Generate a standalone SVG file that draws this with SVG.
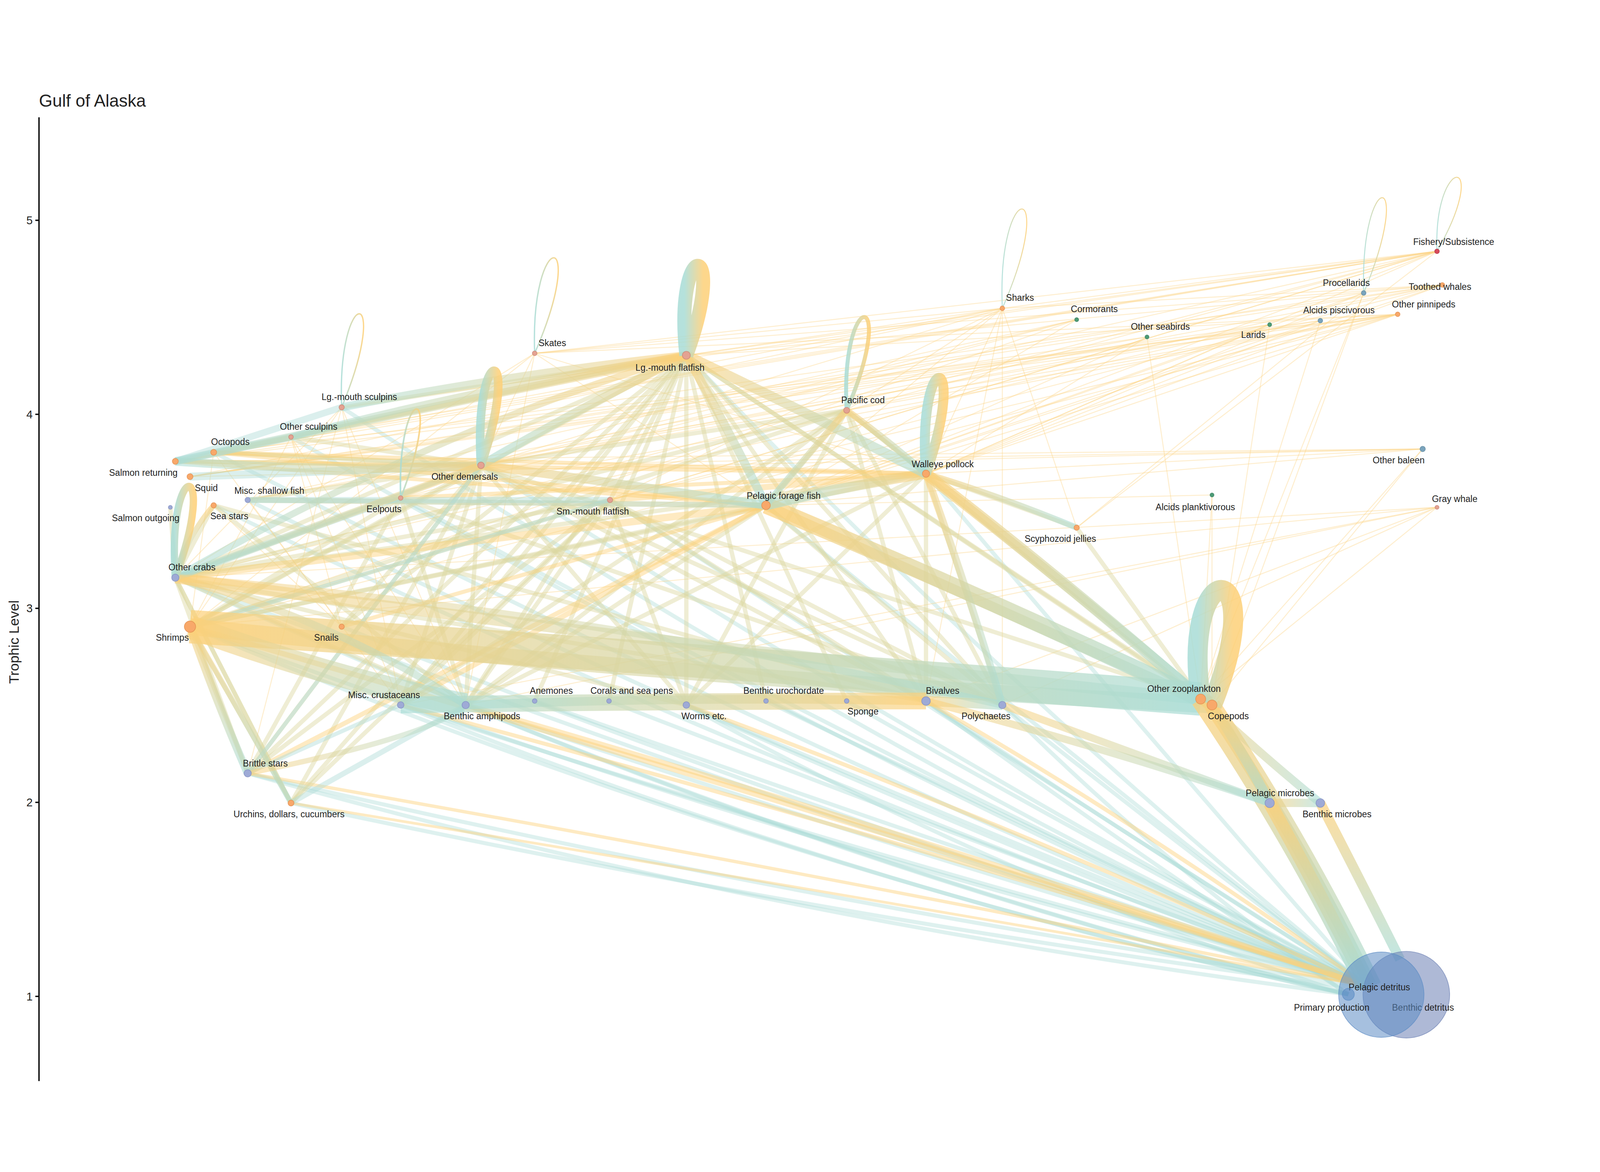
<svg xmlns="http://www.w3.org/2000/svg" width="4800" height="3000" viewBox="0 0 4800 3000" style="max-width:100vw;max-height:100vh">
<style>
text{font-family:"Liberation Sans",Arial,sans-serif;fill:#222}
.lb{font-size:27px;text-anchor:middle}
.tk{font-size:34px;text-anchor:end}
.o{stroke:#fdd488;fill:none;stroke-opacity:.4;stroke-width:3}
.t{stroke:#a9dad6;fill:none;stroke-opacity:.38;stroke-width:12}
.m{stroke:#dcd7a0;fill:none;stroke-opacity:.45;stroke-width:13}
.y{stroke:#fdd078;fill:none;stroke-opacity:.45;stroke-width:12}
.c{stroke:#b0dcd6;fill:none;stroke-opacity:.45;stroke-width:12}
.lp{fill:none;stroke-opacity:.85}
circle{stroke-width:2;stroke-opacity:.7}
.a{fill:#f8a86a;stroke:#e08a4a}
.f{fill:#e4a292;stroke:#c88070}
.b{fill:#9eaad6;stroke:#7f8cc0}
.g{fill:#4c9c76;stroke:#3a8060}
.s{fill:#7aa4bc;stroke:#5a849c}
.r{fill:#d84a5a;stroke:#b03040}
</style>
<defs>
<linearGradient id="gv" x1="0" y1="0" x2="0" y2="1"><stop offset="0" stop-color="#fdd078"/><stop offset="1" stop-color="#a8dcd6"/></linearGradient>
<linearGradient id="gl" x1="0" y1="0" x2="1" y2="0"><stop offset="0" stop-color="#fdd078"/><stop offset="1" stop-color="#a8dcd6"/></linearGradient>
<linearGradient id="gr" x1="1" y1="0" x2="0" y2="0"><stop offset="0" stop-color="#fdd078"/><stop offset="1" stop-color="#a8dcd6"/></linearGradient>
<linearGradient id="gloop" x1="0" y1="0" x2="1" y2="0"><stop offset="0" stop-color="#a8dcd6"/><stop offset="1" stop-color="#fdd078"/></linearGradient>
</defs>
<rect width="4800" height="3000" fill="#fff"/>
<text x="117" y="62" style="font-size:52px">Gulf of Alaska</text>
<g id="axis">
<line x1="117" y1="94" x2="117" y2="2985" stroke="#000" stroke-width="4"/>
<g stroke="#000" stroke-width="4"><line x1="106" y1="403" x2="117" y2="403"/><line x1="106" y1="985" x2="117" y2="985"/><line x1="106" y1="1567" x2="117" y2="1567"/><line x1="106" y1="2149" x2="117" y2="2149"/><line x1="106" y1="2731" x2="117" y2="2731"/></g>
<text class="tk" x="98" y="415">5</text><text class="tk" x="98" y="997">4</text><text class="tk" x="98" y="1579">3</text><text class="tk" x="98" y="2161">2</text><text class="tk" x="98" y="2743">1</text>
<text x="56" y="1668" transform="rotate(-90 56 1668)" style="font-size:42px;text-anchor:middle">Trophic Level</text>
</g>
<g id="connectors">
<path class="t" d="M570 1622 Q2400 2300 4100 2700"/>
<path class="t" d="M526 1475 Q2400 2200 4100 2700"/>
<path class="t" d="M1202 1857 Q2700 2350 4100 2700"/>
<path class="t" d="M1397 1857 Q2800 2330 4100 2700"/>
<path class="t" d="M1604 1845 Q2900 2300 4100 2700"/>
<path class="t" d="M1827 1845 Q3000 2300 4100 2700"/>
<path class="t" d="M2059 1857 Q3100 2300 4100 2700"/>
<path class="t" d="M2298 1845 Q3200 2280 4100 2700"/>
<path class="t" d="M2540 1845 Q3300 2280 4100 2700"/>
<path class="t" d="M2778 1845 Q3400 2260 4100 2700"/>
<path class="t" d="M3007 1857 Q3500 2250 4100 2700"/>
<path class="t" d="M743 2062 Q2400 2450 4100 2700"/>
<path class="t" d="M873 2151 Q2500 2500 4100 2710"/>
<path class="t" d="M1025 1622 Q2600 2250 4100 2700"/>
<path class="t" d="M641 1258 Q2400 2100 4100 2700"/>
<path class="t" d="M1443 1138 Q2800 2000 4100 2700"/>
<path class="t" d="M1202 1236 Q2700 2050 4100 2700"/>
<path class="t" d="M2059 808 Q3000 1800 4100 2700"/>
<path class="t" d="M2298 1258 Q3200 2000 4100 2700"/>
<path class="t" d="M1830 1242 Q3000 2000 4100 2700"/>
<path class="t" d="M2778 1163 Q3400 1900 4100 2700"/>
<path class="t" d="M570 1622 Q2300 2350 4045 2725"/>
<path class="t" d="M1397 1857 Q2700 2400 4045 2725"/>
<path class="t" d="M2778 1845 Q3400 2300 4045 2725"/>
<path class="t" d="M1202 1857 Q2600 2420 4045 2725"/>
<path class="t" d="M2059 1857 Q3000 2380 4045 2725"/>
<path class="t" d="M743 2062 Q2300 2500 4045 2725"/>
<path class="t" d="M526 1475 Q2300 2300 4045 2725"/>
<path class="t" d="M3007 1857 Q3500 2350 4045 2725"/>
<path class="t" d="M743 1242 Q2500 2100 4100 2700"/>
<path class="t" d="M873 1053 Q2500 2000 4100 2700"/>
<path class="t" d="M1025 964 Q2600 2000 4100 2700"/>
<path class="t" d="M641 1099 Q2400 2000 4100 2700"/>
<path class="y" d="M743 2062 Q2400 2350 4100 2700" style="stroke-width:10"/>
<path class="y" d="M873 2151 Q2400 2400 4100 2700" style="stroke-width:8"/>
<path class="y" d="M1397 1857 Q2600 2200 4100 2700" style="stroke-width:16"/>
<path class="y" d="M1202 1857 Q2500 2200 4100 2700" style="stroke-width:12"/>
<path class="y" d="M2059 1857 Q3000 2200 4100 2700" style="stroke-width:12"/>
<path class="y" d="M2778 1845 Q3400 2200 4100 2700" style="stroke-width:12"/>
<path class="y" d="M570 1622 Q2400 2150 4100 2700" style="stroke-width:16"/>
<path class="o" d="M4311 496 L2059 808"/><path class="o" d="M4311 496 L2540 973"/><path class="o" d="M4311 496 L2778 1163"/><path class="o" d="M4311 496 L1443 1138"/><path class="o" d="M4311 496 L1830 1242"/><path class="o" d="M4311 496 L1604 802"/><path class="o" d="M4311 496 L3007 667"/><path class="o" d="M4311 496 L526 1126"/><path class="o" d="M4311 496 L570 1622"/><path class="o" d="M4311 496 L526 1475"/><path class="o" d="M4311 496 L2298 1258"/><path class="o" d="M4311 496 L641 1099"/><path class="o" d="M4311 496 L3230 1325"/><path class="o" d="M4311 496 L1025 964"/><path class="o" d="M4311 496 L873 1053"/>
<path class="o" d="M4327 597 L2778 1163"/><path class="o" d="M4327 597 L2298 1258"/><path class="o" d="M4327 597 L2540 973"/><path class="o" d="M4327 597 L2059 808"/><path class="o" d="M4327 597 L1604 802"/><path class="o" d="M4327 597 L526 1126"/><path class="o" d="M4327 597 L570 1172"/><path class="o" d="M4327 597 L1443 1138"/><path class="o" d="M4327 597 L3007 667"/><path class="o" d="M4327 597 L1830 1242"/>
<path class="o" d="M4193 685 L2778 1163"/><path class="o" d="M4193 685 L2298 1258"/><path class="o" d="M4193 685 L2540 973"/><path class="o" d="M4193 685 L2059 808"/><path class="o" d="M4193 685 L641 1099"/><path class="o" d="M4193 685 L526 1126"/><path class="o" d="M4193 685 L570 1172"/><path class="o" d="M4193 685 L1443 1138"/><path class="o" d="M4193 685 L1202 1236"/><path class="o" d="M4193 685 L1830 1242"/><path class="o" d="M4193 685 L1604 802"/><path class="o" d="M4193 685 L570 1622"/>
<path class="o" d="M4091 621 L2298 1258"/><path class="o" d="M4091 621 L2778 1163"/><path class="o" d="M4091 621 L3602 1839"/><path class="o" d="M4091 621 L570 1172"/><path class="o" d="M4091 621 L3230 1325"/><path class="o" d="M4091 621 L3636 1857"/>
<path class="o" d="M3961 704 L2298 1258"/><path class="o" d="M3961 704 L2778 1163"/><path class="o" d="M3961 704 L743 1242"/><path class="o" d="M3961 704 L3602 1839"/><path class="o" d="M3961 704 L570 1172"/>
<path class="o" d="M3809 716 L2298 1258"/><path class="o" d="M3809 716 L2778 1163"/><path class="o" d="M3809 716 L570 1172"/><path class="o" d="M3809 716 L3636 1857"/><path class="o" d="M3809 716 L526 1475"/><path class="o" d="M3809 716 L1443 1138"/>
<path class="o" d="M3441 753 L2298 1258"/><path class="o" d="M3441 753 L2778 1163"/><path class="o" d="M3441 753 L3602 1839"/><path class="o" d="M3441 753 L570 1172"/><path class="o" d="M3441 753 L743 1242"/>
<path class="o" d="M3230 701 L2298 1258"/><path class="o" d="M3230 701 L743 1242"/><path class="o" d="M3230 701 L1443 1138"/><path class="o" d="M3230 701 L570 1622"/><path class="o" d="M3230 701 L1202 1236"/>
<path class="o" d="M3007 667 L2059 808"/><path class="o" d="M3007 667 L2540 973"/><path class="o" d="M3007 667 L2778 1163"/><path class="o" d="M3007 667 L2298 1258"/><path class="o" d="M3007 667 L1443 1138"/><path class="o" d="M3007 667 L570 1172"/><path class="o" d="M3007 667 L1604 802"/><path class="o" d="M3007 667 L526 1126"/><path class="o" d="M3007 667 L3230 1325"/><path class="o" d="M3007 667 L2778 1845"/><path class="o" d="M3007 667 L3007 1857"/><path class="o" d="M3007 667 L1830 1242"/>
<path class="o" d="M4268 1089 L3602 1839"/><path class="o" d="M4268 1089 L3636 1857"/><path class="o" d="M4268 1089 L2298 1258"/><path class="o" d="M4268 1089 L2778 1163"/><path class="o" d="M4268 1089 L526 1126"/><path class="o" d="M4268 1089 L1443 1138"/><path class="o" d="M4268 1089 L570 1172"/>
<path class="o" d="M4311 1264 L1397 1857"/><path class="o" d="M4311 1264 L3007 1857"/><path class="o" d="M4311 1264 L526 1475"/><path class="o" d="M4311 1264 L3602 1839"/><path class="o" d="M4311 1264 L2778 1845"/><path class="o" d="M4311 1264 L570 1622"/><path class="o" d="M4311 1264 L1202 1857"/>
<path class="o" d="M3636 1227 L3602 1839"/><path class="o" d="M3636 1227 L3636 1857"/><path class="o" d="M3636 1227 L2298 1258"/>
<path class="o" d="M1604 802 L526 1475"/><path class="o" d="M1604 802 L570 1622"/><path class="o" d="M1604 802 L2298 1258"/><path class="o" d="M1604 802 L1443 1138"/><path class="o" d="M1604 802 L1397 1857"/><path class="o" d="M1604 802 L2778 1163"/>
<path class="o" d="M1025 964 L570 1622"/><path class="o" d="M1025 964 L526 1475"/><path class="o" d="M1025 964 L1397 1857"/><path class="o" d="M1025 964 L743 2062"/><path class="o" d="M1025 964 L1202 1857"/>
<path class="o" d="M873 1053 L570 1622"/><path class="o" d="M873 1053 L1397 1857"/><path class="o" d="M873 1053 L1202 1857"/><path class="o" d="M873 1053 L1025 1622"/>
<path class="o" d="M641 1099 L570 1622"/><path class="o" d="M641 1099 L1025 1622"/><path class="o" d="M641 1258 L1025 1622"/><path class="o" d="M743 1242 L1202 1857"/>
<path class="m" d="M2059 808 L526 1475"/><path class="m" d="M2059 808 L570 1622"/><path class="m" d="M2059 808 L1397 1857"/><path class="m" d="M2059 808 L2059 1857"/><path class="m" d="M2059 808 L2778 1845"/><path class="m" d="M2059 808 L3007 1857"/><path class="m" d="M2059 808 L1202 1857"/><path class="m" d="M2059 808 L743 2062"/><path class="m" d="M2059 808 L873 2151"/><path class="m" d="M2059 808 L3602 1839"/><path class="m" d="M2059 808 L2540 1845"/><path class="m" d="M2059 808 L1830 1242"/><path class="m" d="M2059 808 L1025 964"/><path class="m" d="M2059 808 L641 1099"/><path class="m" d="M2059 808 L526 1126"/><path class="m" d="M2059 808 L1604 1845"/><path class="m" d="M2059 808 L1827 1845"/><path class="m" d="M2059 808 L2298 1845"/><path class="m" d="M2059 808 L3636 1857"/><path class="m" d="M2059 808 L1025 1622"/>
<path class="m" d="M2540 973 L570 1622"/><path class="m" d="M2540 973 L526 1475"/><path class="m" d="M2540 973 L1397 1857"/><path class="m" d="M2540 973 L3007 1857"/><path class="m" d="M2540 973 L2778 1845"/><path class="m" d="M2540 973 L3602 1839"/><path class="m" d="M2540 973 L2298 1258"/><path class="m" d="M2540 973 L2778 1163"/><path class="m" d="M2540 973 L1443 1138"/><path class="m" d="M2540 973 L2059 1857"/><path class="m" d="M2540 973 L1202 1857"/>
<path class="m" d="M1443 1138 L526 1475"/><path class="m" d="M1443 1138 L570 1622"/><path class="m" d="M1443 1138 L1397 1857"/><path class="m" d="M1443 1138 L1202 1857"/><path class="m" d="M1443 1138 L2059 1857"/><path class="m" d="M1443 1138 L3007 1857"/><path class="m" d="M1443 1138 L743 2062"/><path class="m" d="M1443 1138 L873 2151"/><path class="m" d="M1443 1138 L2778 1845"/><path class="m" d="M1443 1138 L641 1099"/><path class="m" d="M1443 1138 L873 1053"/><path class="m" d="M1443 1138 L743 1242"/><path class="m" d="M1443 1138 L1025 1622"/><path class="m" d="M1443 1138 L3602 1839"/>
<path class="m" d="M1830 1242 L570 1622"/><path class="m" d="M1830 1242 L1397 1857"/><path class="m" d="M1830 1242 L3007 1857"/><path class="m" d="M1830 1242 L2059 1857"/><path class="m" d="M1830 1242 L2778 1845"/><path class="m" d="M1830 1242 L526 1475"/><path class="m" d="M1830 1242 L1202 1857"/><path class="m" d="M1830 1242 L743 2062"/><path class="m" d="M1830 1242 L873 2151"/>
<path class="m" d="M526 1475 L1397 1857"/><path class="m" d="M526 1475 L2778 1845"/><path class="m" d="M526 1475 L743 2062"/><path class="m" d="M526 1475 L641 1258"/><path class="m" d="M526 1475 L873 2151"/><path class="m" d="M526 1475 L2059 1857"/>
<path class="m" d="M1202 1236 L570 1622"/><path class="m" d="M1202 1236 L1397 1857"/><path class="m" d="M1202 1236 L743 2062"/><path class="m" d="M1202 1236 L3007 1857"/><path class="m" d="M641 1258 L2778 1845"/><path class="m" d="M641 1258 L1397 1857"/>
<path class="m" d="M743 2062 L570 1622"/><path class="m" d="M873 2151 L570 1622"/><path class="m" d="M873 2151 L526 1475"/>
<path class="m" d="M2298 1258 L570 1622"/><path class="m" d="M2298 1258 L1397 1857"/><path class="m" d="M2298 1258 L3007 1857"/><path class="m" d="M2778 1163 L3007 1857"/><path class="m" d="M2778 1163 L2778 1845"/><path class="m" d="M2778 1163 L1397 1857"/><path class="m" d="M2778 1163 L3230 1325"/><path class="m" d="M2778 1163 L570 1622"/><path class="m" d="M2778 1163 L526 1475"/><path class="m" d="M2778 1163 L2059 1857"/>
<path class="m" d="M3230 1325 L3602 1839"/><path class="m" d="M641 1099 L1443 1138"/><path class="m" d="M526 1126 L1443 1138"/><path class="m" d="M511 1264 L526 1475"/>
<path class="y" d="M2298 1258 L526 1475" style="stroke-width:22"/><path class="y" d="M2298 1258 L1202 1857" style="stroke-width:16"/><path class="y" d="M2298 1258 L743 2062" style="stroke-width:14"/><path class="y" d="M2298 1258 L1025 1622"/><path class="y" d="M2298 1258 L526 1126"/><path class="y" d="M2298 1258 L641 1099"/><path class="y" d="M2298 1258 L743 1242" style="stroke-width:16"/>
<path class="y" d="M2778 1163 L641 1099"/><path class="y" d="M2778 1163 L1202 1236"/><path class="y" d="M2778 1163 L1830 1242" style="stroke-width:18"/><path class="y" d="M2778 1163 L526 1126"/>
<path class="c" d="M526 1126 L1025 964" style="stroke-width:20"/><path class="c" d="M526 1126 L873 1053" style="stroke-width:20"/><path class="c" d="M570 1172 L1443 1138" style="stroke-width:24"/><path class="c" d="M743 1242 L1830 1242" style="stroke-width:18"/><path class="c" d="M743 1242 L2298 1258" style="stroke-width:16"/><path class="c" d="M526 1475 L1443 1138" style="stroke-width:16"/><path class="c" d="M526 1475 L1202 1236"/><path class="c" d="M570 1622 L1830 1242"/><path class="c" d="M743 2062 L1443 1138"/><path class="c" d="M873 2151 L1397 1857" style="stroke-width:16"/><path class="c" d="M743 2062 L1202 1857"/>
<path d="M570 1622 Q2100 1720 3602 1839" stroke="url(#gl)" stroke-width="100" fill="none" stroke-opacity=".7"/>
<path d="M570 1622 Q2100 1780 3636 1857" stroke="url(#gl)" stroke-width="50" fill="none" stroke-opacity=".6"/>
<path d="M570 1622 Q1000 1780 1397 1857" stroke="url(#gl)" stroke-width="70" fill="none" stroke-opacity=".6"/>
<path d="M526 1475 Q2000 1680 3602 1839" stroke="url(#gl)" stroke-width="34" fill="none" stroke-opacity=".55"/>
<path d="M2298 1258 Q2950 1530 3602 1839" stroke="url(#gl)" stroke-width="50" fill="none" stroke-opacity=".7"/>
<path d="M2298 1258 Q2970 1560 3636 1857" stroke="url(#gl)" stroke-width="30" fill="none" stroke-opacity=".6"/>
<path d="M2778 1163 Q3190 1480 3602 1839" stroke="url(#gl)" stroke-width="34" fill="none" stroke-opacity=".65"/>
<path d="M2778 1163 Q3210 1500 3636 1857" stroke="url(#gl)" stroke-width="24" fill="none" stroke-opacity=".6"/>
<path d="M2778 1163 Q2540 1200 2298 1258" stroke="url(#gr)" stroke-width="30" fill="none" stroke-opacity=".6"/>
<path d="M2059 808 Q2400 970 2778 1163" stroke="url(#gl)" stroke-width="30" fill="none" stroke-opacity=".6"/>
<path d="M2059 808 Q2180 1020 2298 1258" stroke="url(#gl)" stroke-width="26" fill="none" stroke-opacity=".6"/>
<path d="M2059 808 Q1750 960 1443 1138" stroke="url(#gr)" stroke-width="26" fill="none" stroke-opacity=".6"/>
<path d="M2059 808 Q1300 960 526 1126" stroke="url(#gr)" stroke-width="24" fill="none" stroke-opacity=".55"/>
<path d="M2059 808 Q1300 1030 526 1475" stroke="url(#gr)" stroke-width="20" fill="none" stroke-opacity=".55"/>
<path d="M2059 808 Q1560 860 1025 964" stroke="url(#gr)" stroke-width="24" fill="none" stroke-opacity=".55"/>
<path d="M2059 808 Q1450 900 873 1053" stroke="url(#gr)" stroke-width="20" fill="none" stroke-opacity=".55"/>
<path d="M2540 973 Q2660 1060 2778 1163" stroke="url(#gl)" stroke-width="20" fill="none" stroke-opacity=".6"/>
<path d="M2540 973 Q2420 1110 2298 1258" stroke="url(#gr)" stroke-width="20" fill="none" stroke-opacity=".6"/>
<path d="M1443 1138 Q1000 1160 526 1126" stroke="url(#gr)" stroke-width="26" fill="none" stroke-opacity=".55"/>
<path d="M1443 1138 Q1850 1190 2298 1258" stroke="url(#gl)" stroke-width="26" fill="none" stroke-opacity=".6"/>
<path d="M1443 1138 Q1000 1300 526 1475" stroke="url(#gr)" stroke-width="22" fill="none" stroke-opacity=".55"/>
<path d="M2778 1163 Q3000 1230 3230 1325" stroke="url(#gl)" stroke-width="18" fill="none" stroke-opacity=".6"/>
<path d="M526 1475 Q1800 1580 3007 1857" stroke="url(#gl)" stroke-width="22" fill="none" stroke-opacity=".5"/>
<path d="M570 1622 Q650 1850 743 2062" stroke="url(#gv)" stroke-width="24" fill="none" stroke-opacity=".6"/>
<path d="M570 1622 Q720 1880 873 2151" stroke="url(#gv)" stroke-width="16" fill="none" stroke-opacity=".55"/>
<path d="M1202 1857 Q2000 1845 2778 1845" stroke="url(#gr)" stroke-width="50" fill="none" stroke-opacity=".65"/>
<path d="M1397 1857 Q2100 1830 2778 1845" stroke="url(#gr)" stroke-width="26" fill="none" stroke-opacity=".6"/>
<path d="M526 1475 Q560 1350 641 1258" stroke="url(#gv)" stroke-width="16" fill="none" stroke-opacity=".6"/>
<path d="M526 1475 Q1000 1600 1397 1857" stroke="url(#gl)" stroke-width="22" fill="none" stroke-opacity=".55"/>
<path d="M743 2062 Q1300 1950 1397 1857" stroke="url(#gl)" stroke-width="16" fill="none" stroke-opacity=".5"/>
<path d="M2778 1845 Q2900 1850 3007 1857" stroke="url(#gl)" stroke-width="30" fill="none" stroke-opacity=".6"/>
<path d="M2778 1163 Q2900 1500 3007 1857" stroke="url(#gl)" stroke-width="22" fill="none" stroke-opacity=".55"/>
<path d="M3602 1839 Q3880 2250 4100 2700" stroke="url(#gv)" stroke-width="60" fill="none" stroke-opacity=".75"/>
<path d="M3636 1857 Q3900 2250 4120 2700" stroke="url(#gv)" stroke-width="50" fill="none" stroke-opacity=".7"/>
<path d="M3636 1857 Q3730 2000 3809 2151" stroke="url(#gv)" stroke-width="30" fill="none" stroke-opacity=".7"/>
<path d="M3602 1839 Q3800 2020 3961 2151" stroke="url(#gl)" stroke-width="25" fill="none" stroke-opacity=".6"/>
<path d="M3809 2151 Q3960 2420 4100 2700" stroke="url(#gv)" stroke-width="40" fill="none" stroke-opacity=".75"/>
<path d="M3961 2151 Q4100 2420 4200 2620" stroke="url(#gv)" stroke-width="30" fill="none" stroke-opacity=".7"/>
<path d="M3809 2151 Q3890 2150 3961 2151" stroke="url(#gl)" stroke-width="25" fill="none" stroke-opacity=".6"/>
<path d="M3007 1857 Q3400 2000 3809 2151" stroke="url(#gl)" stroke-width="22" fill="none" stroke-opacity=".55"/>
<path d="M2778 1845 Q3300 1980 3809 2151" stroke="url(#gl)" stroke-width="22" fill="none" stroke-opacity=".55"/>
<path class="lp" d="M2059 808 C2020 450 2190 450 2059 808" stroke="url(#gloop)" stroke-width="42"/>
<path class="lp" d="M2778 1163 C2750 780 2910 780 2778 1163" stroke="url(#gloop)" stroke-width="30"/>
<path class="lp" d="M1443 1138 C1420 760 1570 760 1443 1138" stroke="url(#gloop)" stroke-width="26"/>
<path class="lp" d="M3602 1839 C3540 1400 3820 1400 3636 1857" stroke="url(#gloop)" stroke-width="60"/>
<path class="lp" d="M526 1475 C500 1110 660 1110 526 1475" stroke="url(#gloop)" stroke-width="22"/>
<path class="lp" d="M2540 973 C2520 600 2700 600 2540 973" stroke="url(#gloop)" stroke-width="12"/>
<path class="lp" d="M1202 1236 C1190 880 1340 880 1202 1236" stroke="url(#gloop)" stroke-width="5"/>
<path class="lp" d="M1604 802 C1590 420 1770 420 1604 802" stroke="url(#gloop)" stroke-width="4"/>
<path class="lp" d="M1025 964 C1010 590 1180 590 1025 964" stroke="url(#gloop)" stroke-width="4"/>
<path class="lp" d="M3007 667 C2990 270 3180 270 3007 667" stroke="url(#gloop)" stroke-width="3"/>
<path class="lp" d="M4311 496 C4300 200 4480 200 4311 496" stroke="url(#gloop)" stroke-width="3"/>
<path class="lp" d="M4091 621 C4080 240 4250 240 4091 621" stroke="url(#gloop)" stroke-width="3"/>
</g>
<g id="nodes">
<g id="n-fishery"><circle class="r" cx="4311" cy="496" r="7"/><text class="lb" x="4361" y="477">Fishery/Subsistence</text></g>
<g id="n-toothed"><circle class="a" cx="4327" cy="597" r="7"/><text class="lb" x="4320" y="612">Toothed whales</text></g>
<g id="n-procellarids"><circle class="s" cx="4091" cy="621" r="7"/><text class="lb" x="4039" y="600">Procellarids</text></g>
<g id="n-alcidsp"><circle class="s" cx="3961" cy="704" r="7"/><text class="lb" x="4017" y="682">Alcids piscivorous</text></g>
<g id="n-larids"><circle class="g" cx="3809" cy="716" r="6"/><text class="lb" x="3760" y="756">Larids</text></g>
<g id="n-pinnipeds"><circle class="a" cx="4193" cy="685" r="7"/><text class="lb" x="4271" y="664">Other pinnipeds</text></g>
<g id="n-seabirds"><circle class="g" cx="3441" cy="753" r="6"/><text class="lb" x="3481" y="731">Other seabirds</text></g>
<g id="n-cormorants"><circle class="g" cx="3230" cy="701" r="6"/><text class="lb" x="3283" y="679">Cormorants</text></g>
<g id="n-sharks"><circle class="a" cx="3007" cy="667" r="7"/><text class="lb" x="3060" y="645">Sharks</text></g>
<g id="n-skates"><circle class="f" cx="1604" cy="802" r="7"/><text class="lb" x="1657" y="780">Skates</text></g>
<g id="n-lgflat"><circle class="f" cx="2059" cy="808" r="12"/><text class="lb" x="2010" y="854">Lg.-mouth flatfish</text></g>
<g id="n-cod"><circle class="f" cx="2540" cy="973" r="9"/><text class="lb" x="2589" y="951">Pacific cod</text></g>
<g id="n-lgsculp"><circle class="f" cx="1025" cy="964" r="8"/><text class="lb" x="1078" y="942">Lg.-mouth sculpins</text></g>
<g id="n-osculp"><circle class="f" cx="873" cy="1053" r="7"/><text class="lb" x="926" y="1031">Other sculpins</text></g>
<g id="n-octopods"><circle class="a" cx="641" cy="1099" r="9"/><text class="lb" x="691" y="1077">Octopods</text></g>
<g id="n-salmonret"><circle class="a" cx="526" cy="1126" r="9"/><text class="lb" x="430" y="1169">Salmon returning</text></g>
<g id="n-squid"><circle class="a" cx="570" cy="1172" r="9"/><text class="lb" x="619" y="1215">Squid</text></g>
<g id="n-shallow"><circle class="b" cx="743" cy="1242" r="8"/><text class="lb" x="808" y="1224">Misc. shallow fish</text></g>
<g id="n-seastars"><circle class="a" cx="641" cy="1258" r="8"/><text class="lb" x="688" y="1300">Sea stars</text></g>
<g id="n-salmonout"><circle class="b" cx="511" cy="1264" r="6"/><text class="lb" x="437" y="1306">Salmon outgoing</text></g>
<g id="n-eelpouts"><circle class="f" cx="1202" cy="1236" r="7"/><text class="lb" x="1152" y="1279">Eelpouts</text></g>
<g id="n-odem"><circle class="f" cx="1443" cy="1138" r="10"/><text class="lb" x="1394" y="1181">Other demersals</text></g>
<g id="n-smflat"><circle class="f" cx="1830" cy="1242" r="8"/><text class="lb" x="1778" y="1285">Sm.-mouth flatfish</text></g>
<g id="n-forage"><circle class="a" cx="2298" cy="1258" r="13"/><text class="lb" x="2351" y="1239">Pelagic forage fish</text></g>
<g id="n-pollock"><circle class="a" cx="2778" cy="1163" r="11"/><text class="lb" x="2828" y="1144">Walleye pollock</text></g>
<g id="n-jellies"><circle class="a" cx="3230" cy="1325" r="8"/><text class="lb" x="3181" y="1368">Scyphozoid jellies</text></g>
<g id="n-alcidsplk"><circle class="g" cx="3636" cy="1227" r="6"/><text class="lb" x="3586" y="1273">Alcids planktivorous</text></g>
<g id="n-baleen"><circle class="s" cx="4268" cy="1089" r="8"/><text class="lb" x="4196" y="1132">Other baleen</text></g>
<g id="n-gray"><circle class="f" cx="4311" cy="1264" r="6"/><text class="lb" x="4364" y="1248">Gray whale</text></g>
<g id="n-crabs"><circle class="b" cx="526" cy="1475" r="11"/><text class="lb" x="576" y="1453">Other crabs</text></g>
<g id="n-shrimps"><circle class="a" cx="570" cy="1622" r="17"/><text class="lb" x="517" y="1664">Shrimps</text></g>
<g id="n-snails"><circle class="a" cx="1025" cy="1622" r="8"/><text class="lb" x="979" y="1664">Snails</text></g>
<g id="n-misccrust"><circle class="b" cx="1202" cy="1857" r="10"/><text class="lb" x="1152" y="1836">Misc. crustaceans</text></g>
<g id="n-amphipods"><circle class="b" cx="1397" cy="1857" r="11"/><text class="lb" x="1446" y="1900">Benthic amphipods</text></g>
<g id="n-anemones"><circle class="b" cx="1604" cy="1845" r="7"/><text class="lb" x="1654" y="1824">Anemones</text></g>
<g id="n-corals"><circle class="b" cx="1827" cy="1845" r="7"/><text class="lb" x="1895" y="1824">Corals and sea pens</text></g>
<g id="n-worms"><circle class="b" cx="2059" cy="1857" r="10"/><text class="lb" x="2112" y="1900">Worms etc.</text></g>
<g id="n-urochordate"><circle class="b" cx="2298" cy="1845" r="7"/><text class="lb" x="2351" y="1824">Benthic urochordate</text></g>
<g id="n-sponge"><circle class="b" cx="2540" cy="1845" r="7"/><text class="lb" x="2589" y="1885">Sponge</text></g>
<g id="n-bivalves"><circle class="b" cx="2778" cy="1845" r="13"/><text class="lb" x="2828" y="1824">Bivalves</text></g>
<g id="n-polychaetes"><circle class="b" cx="3007" cy="1857" r="11"/><text class="lb" x="2958" y="1900">Polychaetes</text></g>
<g id="n-ozoo"><circle class="a" cx="3602" cy="1839" r="15"/><text class="lb" x="3552" y="1817">Other zooplankton</text></g>
<g id="n-copepods"><circle class="a" cx="3636" cy="1857" r="15"/><text class="lb" x="3685" y="1900">Copepods</text></g>
<g id="n-brittle"><circle class="b" cx="743" cy="2062" r="11"/><text class="lb" x="796" y="2041">Brittle stars</text></g>
<g id="n-urchins"><circle class="a" cx="873" cy="2151" r="9"/><text class="lb" x="867" y="2194">Urchins, dollars, cucumbers</text></g>
<g id="n-pmicrobes"><circle class="b" cx="3809" cy="2151" r="14"/><text class="lb" x="3840" y="2130">Pelagic microbes</text></g>
<g id="n-bmicrobes"><circle class="b" cx="3961" cy="2151" r="13"/><text class="lb" x="4011" y="2194">Benthic microbes</text></g>
<g id="n-bdet"><circle cx="4219" cy="2726" r="130" fill="#6c80b4" fill-opacity=".55" stroke="#6c80b4" stroke-width="3"/><text class="lb" x="4269" y="2774">Benthic detritus</text></g>
<g id="n-pdet"><circle cx="4144" cy="2726" r="128" fill="#5c8cc4" fill-opacity=".55" stroke="#5c8cc4" stroke-width="3"/><text class="lb" x="4138" y="2713">Pelagic detritus</text></g>
<g id="n-pp"><circle cx="4045" cy="2725" r="18" fill="#5c8cc4" fill-opacity=".6" stroke="#5c8cc4" stroke-width="3"/><text class="lb" x="3995" y="2774">Primary production</text></g>
</g>
</svg>
